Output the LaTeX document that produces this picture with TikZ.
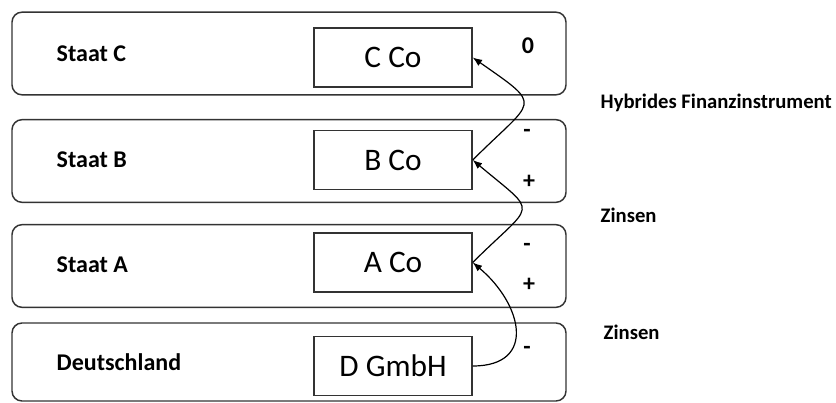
\documentclass[tikz,border=0pt]{standalone}
\usepackage{fontspec}
\setmainfont{Carlito}
\usetikzlibrary{arrows.meta}
\begin{document}
\begin{tikzpicture}[x=0.75pt,y=-0.75pt,
    land/.style={draw=black!80, line width=1.1pt, rounded corners=7.5pt,
      minimum width=415.5pt, minimum height=62pt},
    firma/.style={draw=black!80, line width=1.1pt, minimum width=118.5pt,
      minimum height=44pt, font=\fontsize{23.5}{28}\selectfont},
    beschrift/.style={anchor=west, font=\fontsize{18}{21}\selectfont\bfseries},
    zeichen/.style={font=\fontsize{18}{21}\selectfont\bfseries},
    fluss/.style={-{Latex[length=7pt,width=5.5pt]}, line width=0.9pt}]
        \useasboundingbox (0,0) rectangle (836,403);
        % Staaten
        \node[land] (staatc) at (289,53.5) {};
        \node[land] (staatb) at (289,161) {};
        \node[land] (staata) at (289,266) {};
        \node[land, minimum height=58.5pt] (de) at (289,362) {};
        \node[beschrift] (lc) at (52,54) {Staat C};
        \node[beschrift] (lb) at (52,160) {Staat B};
        \node[beschrift] (la) at (52,265) {Staat A};
        \node[beschrift] (ld) at (52,362) {Deutschland};
        % Gesellschaften
        \node[firma] (cco) at (393,57.5) {C Co};
        \node[firma] (bco) at (393,160) {B Co};
        \node[firma] (aco) at (393,262.5) {A Co};
        \node[firma] (dgmbh) at (393,366) {D GmbH};
        % Zahlungen
        \draw[fluss] (dgmbh.east) to[out=0, in=-40, looseness=1.6] (aco.east);
        \draw[fluss] (aco.east) to[out=45, in=-40, looseness=2.2] (bco.east);
        \draw[fluss] (bco.east) to[out=45, in=-35, looseness=2.2] (cco.east);
        % Vorzeichen
        \node[zeichen] (nc) at (528,46) {0};
        \node[zeichen] (mb) at (527,133) {-};
        \node[zeichen] (pb) at (529,182) {+};
        \node[zeichen] (ma) at (527,247) {-};
        \node[zeichen] (pa) at (529,285) {+};
        \node[zeichen] (md) at (527,350) {-};
        % Instrumente
        \node[beschrift, font=\fontsize{15.5}{18}\selectfont\bfseries] (hyb) at (596,103) {Hybrides Finanzinstrument};
        \node[beschrift, font=\fontsize{15.5}{18}\selectfont\bfseries] (zb) at (596,215) {Zinsen};
        \node[beschrift, font=\fontsize{15.5}{18}\selectfont\bfseries] (za) at (599,332) {Zinsen};
\end{tikzpicture}
\end{document}
